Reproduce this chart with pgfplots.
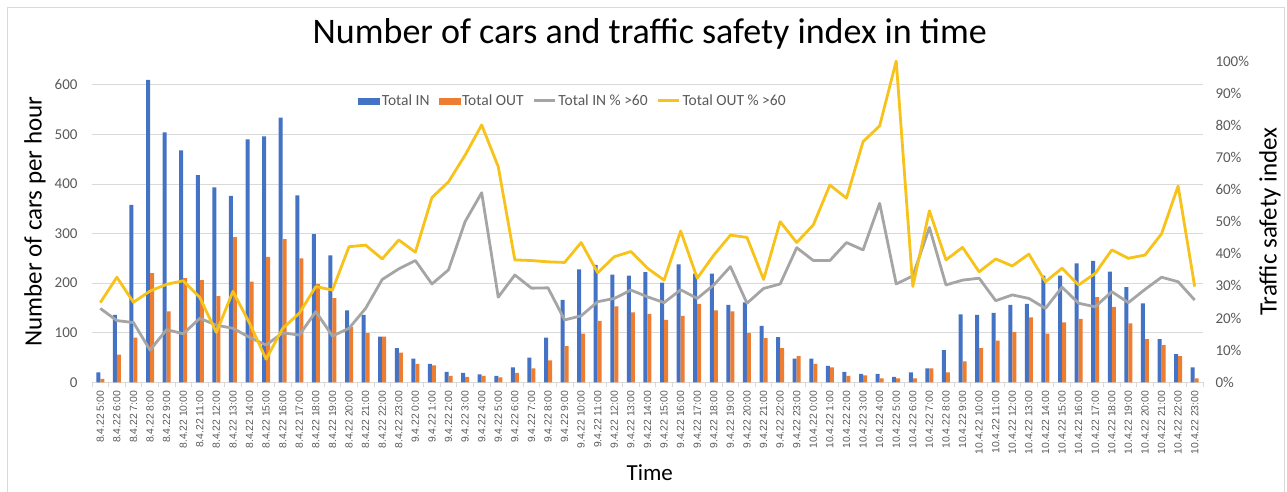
\documentclass[border=0pt]{standalone}
\usepackage{fontspec}
\setmainfont{Carlito}
\newfontfamily\arialfont{Liberation Sans}
\usepackage{pgfplots}
\usepackage{pgfplotstable}
\pgfplotsset{compat=1.18}
\definecolor{cin}{HTML}{4472C4}
\definecolor{cout}{HTML}{ED7D31}
\definecolor{cinp}{HTML}{A5A5A5}
\definecolor{coutp}{HTML}{F7C21A}
\definecolor{gridc}{HTML}{D9D9D9}
\definecolor{tickc}{HTML}{595959}

\pgfplotstableread{
idx IN OUT INP OUTP
0 20 7 23.0 24.8
1 136 56 19.2 32.7
2 358 90 18.6 24.9
3 610 220 10.0 28.4
4 504 143 16.4 30.5
5 468 210 15.1 31.6
6 418 206 19.9 26.4
7 393 174 17.8 15.5
8 376 293 16.8 28.3
9 490 203 14.0 18.4
10 496 253 11.6 7.2
11 534 289 15.4 16.8
12 377 250 14.7 21.5
13 299 198 22.0 29.8
14 256 170 14.4 28.7
15 145 112 16.8 42.2
16 136 99 23.0 42.7
17 92 92 32.0 38.4
18 69 60 35.3 44.3
19 48 37 37.9 40.5
20 37 34 30.6 57.5
21 21 13 35.0 62.4
22 19 11 50.0 70.7
23 16 13 59.0 80.1
24 13 10 26.5 67.1
25 30 19 33.4 38.1
26 50 28 29.3 37.9
27 90 44 29.4 37.5
28 166 73 19.4 37.3
29 228 98 20.7 43.5
30 237 124 25.1 34.1
31 217 153 26.1 39.1
32 215 141 28.7 40.7
33 222 138 26.6 35.5
34 201 126 24.8 31.8
35 238 134 28.8 47.1
36 219 158 26.1 32.4
37 219 145 30.3 39.6
38 156 143 36.0 45.8
39 161 99 24.6 45.1
40 114 89 29.2 32.0
41 91 69 30.6 50.0
42 48 53 41.9 43.5
43 48 37 37.9 49.0
44 33 30 37.9 61.4
45 21 13 43.5 57.3
46 17 14 41.2 74.9
47 17 8 55.7 79.8
48 11 8 30.6 100
49 20 8 33.1 29.8
50 28 28 48.2 53.4
51 65 20 30.3 38.1
52 137 42 31.8 42.0
53 136 69 32.4 34.4
54 140 84 25.4 38.4
55 156 101 27.2 36.2
56 158 131 26.1 39.9
57 215 98 23.0 31.3
58 215 121 29.6 35.5
59 240 128 24.6 30.3
60 245 172 23.5 33.9
61 223 152 28.2 41.2
62 192 119 24.8 38.6
63 159 87 28.9 39.6
64 87 75 32.7 46.2
65 57 53 31.3 61.1
66 30 8 25.6 29.8
}\data

\begin{document}
\begin{tikzpicture}
\useasboundingbox (0pt,0pt) rectangle (1287pt,491pt);
\draw[gridc, line width=0.75pt] (7pt,-10pt) rectangle (1284pt,484pt);
\begin{axis}[
  at={(92pt,108.7pt)}, anchor=south west,
  scale only axis, width=1111pt, height=321.3pt,
  xmin=-0.5, xmax=66.5, ymin=0, ymax=648,
  axis x line=bottom, axis y line=left,
  x axis line style={draw=gridc, line width=0.75pt, -},
  y axis line style={draw=none},
  ytick={0,100,...,600},
  ytick style={draw=none},
  ymajorgrids, grid style={gridc, line width=0.75pt},
  /pgf/number format/assume math mode=true,
  yticklabel style={font=\fontsize{15}{15}\selectfont, text=tickc, xshift=-11pt},
  xtick={0,...,66},
  xticklabels={8.4.22 5:00,8.4.22 6:00,8.4.22 7:00,8.4.22 8:00,8.4.22 9:00,8.4.22 10:00,8.4.22 11:00,8.4.22 12:00,8.4.22 13:00,8.4.22 14:00,8.4.22 15:00,8.4.22 16:00,8.4.22 17:00,8.4.22 18:00,8.4.22 19:00,8.4.22 20:00,8.4.22 21:00,8.4.22 22:00,8.4.22 23:00,
  9.4.22 0:00,9.4.22 1:00,9.4.22 2:00,9.4.22 3:00,9.4.22 4:00,9.4.22 5:00,9.4.22 6:00,9.4.22 7:00,9.4.22 8:00,9.4.22 9:00,9.4.22 10:00,9.4.22 11:00,9.4.22 12:00,9.4.22 13:00,9.4.22 14:00,9.4.22 15:00,9.4.22 16:00,9.4.22 17:00,9.4.22 18:00,9.4.22 19:00,9.4.22 20:00,9.4.22 21:00,9.4.22 22:00,9.4.22 23:00,
  10.4.22 0:00,10.4.22 1:00,10.4.22 2:00,10.4.22 3:00,10.4.22 4:00,10.4.22 5:00,10.4.22 6:00,10.4.22 7:00,10.4.22 8:00,10.4.22 9:00,10.4.22 10:00,10.4.22 11:00,10.4.22 12:00,10.4.22 13:00,10.4.22 14:00,10.4.22 15:00,10.4.22 16:00,10.4.22 17:00,10.4.22 18:00,10.4.22 19:00,10.4.22 20:00,10.4.22 21:00,10.4.22 22:00,10.4.22 23:00},
  xticklabel style={rotate=90, anchor=east, font=\arialfont\fontsize{10.4}{10.4}\selectfont, text=tickc, xshift=-5pt},
  major x tick style={draw=none},
  minor xtick={-0.5,0.5,...,66.5},
  minor x tick style={draw=gridc, line width=0.75pt},
  xtick align=outside,
  major tick length=0pt, minor tick length=5pt,
  title={Number of cars and traffic safety index in time},
  title style={at={(axis description cs:0.502,1.065)}, anchor=center, font=\fontsize{36}{40}\selectfont, text=black},
  xlabel={Time},
  every axis x label/.style={at={(axis description cs:0.502,-0.282)}, anchor=center, font=\fontsize{23}{25}\selectfont},
  ylabel={Number of cars per hour},
  every axis y label/.style={at={(axis description cs:-0.0513,0.5)}, rotate=90, anchor=center, font=\fontsize{25}{27}\selectfont},
]
\addplot[ybar, bar width=4pt, bar shift=-2pt, fill=cin, draw=none] table[x=idx,y=IN]{\data};
\addplot[ybar, bar width=4pt, bar shift=2pt, fill=cout, draw=none] table[x=idx,y=OUT]{\data};
\end{axis}
\begin{axis}[
  at={(92pt,108.7pt)}, anchor=south west,
  scale only axis, width=1111pt, height=321.3pt,
  xmin=-0.5, xmax=66.5, ymin=0, ymax=100,
  axis y line*=right, axis x line=none,
  y axis line style={draw=none},
  ytick={0,10,...,100},
  yticklabels={0\%,10\%,20\%,30\%,40\%,50\%,60\%,70\%,80\%,90\%,100\%},
  ytick style={draw=none},
  major tick length=0pt,
  yticklabel style={font=\fontsize{15}{15}\selectfont, text=tickc, xshift=9pt},
  ylabel={Traffic safety index},
  every axis y label/.style={at={(axis description cs:1.0603,0.5)}, rotate=90, anchor=center, font=\fontsize{25}{27}\selectfont},
  legend style={at={(axis description cs:0.433,0.876)}, anchor=center, draw=none, fill=none,
    font=\fontsize{15.5}{16}\selectfont, text=tickc, legend columns=4,
    /tikz/every even column/.append style={column sep=7pt}},
]
\addlegendimage{legend image code/.code={\fill[cin] (0pt,-3pt) rectangle (21pt,3pt);}}
\addlegendentry{Total IN}
\addlegendimage{legend image code/.code={\fill[cout] (0pt,-3pt) rectangle (21pt,3pt);}}
\addlegendentry{Total OUT}
\addplot[cinp, line width=2.8pt, line join=round, mark=none, legend image code/.code={\draw[cinp, line width=2.8pt] (0pt,0pt) -- (21pt,0pt);}] table[x=idx,y=INP]{\data};
\addlegendentry{Total IN \% >60}
\addplot[coutp, line width=2.8pt, line join=round, mark=none, legend image code/.code={\draw[coutp, line width=2.8pt] (0pt,0pt) -- (21pt,0pt);}] table[x=idx,y=OUTP]{\data};
\addlegendentry{Total OUT \% >60}
\end{axis}
\end{tikzpicture}
\end{document}
